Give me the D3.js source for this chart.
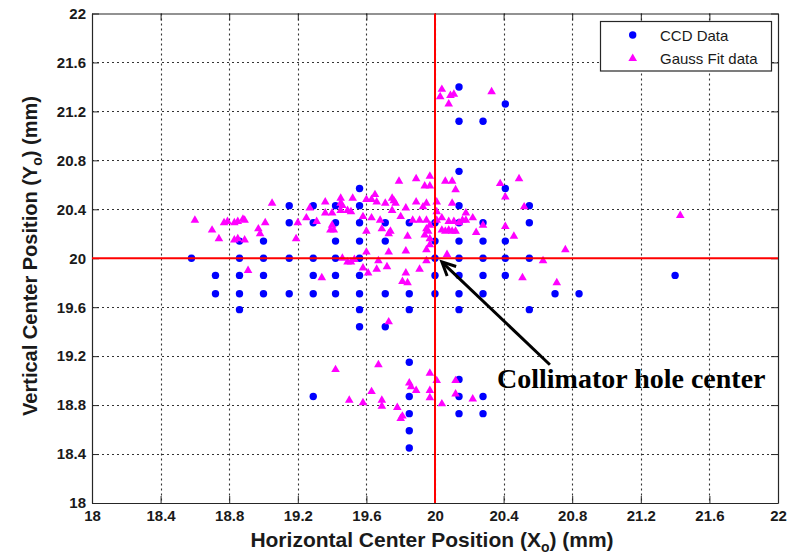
<!DOCTYPE html>
<html><head><meta charset="utf-8">
<script src="https://cdn.jsdelivr.net/npm/d3@7"></script>
<style>body{margin:0;background:#fff}</style>
</head><body><svg id="c" width="798" height="557"></svg>
<script>
const xTicks=[18,18.4,18.8,19.2,19.6,20,20.4,20.8,21.2,21.6,22];
const yTicks=[18,18.4,18.8,19.2,19.6,20,20.4,20.8,21.2,21.6,22];
const seriesNames=["CCD Data","Gauss Fit data"];
const ccdData=[
[18.58,20.00],
[18.72,19.86],[18.72,19.71],
[18.86,20.14],[18.86,20.00],[18.86,19.86],[18.86,19.71],[18.86,19.58],
[19.00,20.14],[19.00,20.00],[19.00,19.86],[19.00,19.71],
[19.15,20.43],[19.15,20.29],[19.15,20.00],[19.15,19.71],
[19.29,20.43],[19.29,20.29],[19.29,20.00],[19.29,19.86],[19.29,19.71],[19.29,18.87],
[19.42,20.43],[19.42,20.29],[19.42,20.14],[19.42,20.00],[19.42,19.86],[19.42,19.71],
[19.56,20.57],[19.56,20.43],[19.56,20.29],[19.56,20.14],[19.56,20.00],[19.56,19.86],[19.56,19.71],[19.56,19.58],[19.56,19.44],
[19.71,20.29],[19.71,20.14],[19.71,19.71],[19.71,19.44],
[19.85,20.29],[19.85,19.71],[19.85,19.58],[19.85,19.15],[19.85,18.87],[19.85,18.73],[19.85,18.59],[19.85,18.45],
[20.00,20.29],[20.00,20.14],[20.00,20.00],[20.00,19.86],[20.00,19.71],
[20.14,21.40],[20.14,21.12],[20.14,20.71],[20.14,20.43],[20.14,20.29],[20.14,20.14],[20.14,20.00],[20.14,19.86],[20.14,19.71],[20.14,19.58],[20.14,19.01],[20.14,18.87],[20.14,18.73],
[20.28,21.12],[20.28,20.29],[20.28,20.14],[20.28,20.00],[20.28,19.86],[20.28,19.71],[20.28,18.87],[20.28,18.73],
[20.41,21.26],[20.41,20.57],[20.41,20.14],[20.41,20.00],[20.41,19.86],
[20.55,20.43],[20.55,20.29],[20.55,20.00],[20.55,19.58],
[20.70,19.71],[20.84,19.71],[21.40,19.86]
];
const gaussData=[
[20.04,21.38],[20.03,21.32],[20.09,21.33],[20.11,21.34],[20.08,21.26],[20.33,21.36],
[19.79,20.63],[19.89,20.65],[19.97,20.67],[19.97,20.59],[19.94,20.59],[20.06,20.63],[20.10,20.63],[20.12,20.56],[20.38,20.61],[20.49,20.65],[20.41,20.50],
[19.45,20.49],[19.45,20.45],[19.46,20.43],[19.52,20.49],[19.60,20.48],[19.63,20.48],[19.65,20.52],[19.71,20.45],[19.76,20.47],[19.77,20.45],[19.83,20.41],[19.89,20.46],[19.95,20.45],[19.93,20.42],[20.01,20.46],[20.10,20.45],[20.18,20.37],[20.52,20.42],[19.75,20.39],[19.80,20.34],[20.01,20.38],[19.58,20.34],[19.63,20.33],[19.68,20.31],[19.87,20.31],[19.91,20.31],[19.95,20.31],[19.97,20.27],[20.04,20.33],[20.08,20.30],[20.11,20.30],[20.14,20.29],[20.16,20.31],[20.18,20.31],[20.22,20.33],[20.28,20.27],[20.41,20.26],[20.01,20.31],
[19.41,20.23],[19.40,20.27],[19.60,20.22],[19.69,20.24],[19.74,20.22],[19.73,20.20],[19.95,20.24],[19.96,20.22],[19.94,20.19],[19.97,20.16],[20.04,20.23],[20.06,20.22],[20.08,20.23],[20.10,20.22],[20.12,20.22],[20.24,20.21],[20.46,20.18],[19.84,20.18],
[19.95,20.07],[19.97,20.11],[19.60,20.05],[19.73,20.05],[19.83,20.06],[20.07,20.03],[20.76,20.07],[20.63,19.98],
[19.49,19.97],[19.51,19.97],[19.53,19.99],[19.46,20.00],[19.58,19.92],[19.61,19.88],[19.67,19.98],[19.66,19.91],[19.72,19.93],[19.91,19.91],[19.95,19.98],[19.83,19.88],[19.84,19.80],[19.81,19.81],[20.51,19.84],[20.71,19.80],[19.73,19.48],[19.34,19.84],
[18.60,20.31],[18.70,20.23],[18.74,20.16],[18.77,20.29],[18.79,20.30],[18.83,20.29],[18.85,20.30],[18.88,20.32],[18.89,20.31],[18.83,20.15],[18.85,20.16],[18.89,20.15],[18.91,19.90],[18.97,20.24],[18.98,20.20],[19.01,20.29],[19.05,20.45],[19.19,20.16],[19.20,20.29],[19.25,20.33],[19.27,20.41],[19.31,20.30],[19.36,20.37],[19.36,20.46],[19.39,20.23],[19.40,20.37],[19.45,20.39],[19.49,20.39],[19.51,20.38],[19.66,20.46],[19.75,20.49],
[19.42,19.09],[19.67,19.13],[19.50,18.84],[19.58,18.82],[19.63,18.91],[19.69,18.84],[19.69,18.79],[19.78,18.78],[19.80,18.69],[19.81,18.71],[19.85,18.98],[19.86,18.95],[19.89,18.92],[19.97,19.06],[19.97,18.92],[19.97,18.86],[20.01,19.00],[20.04,18.81],[20.12,19.00],[20.12,18.89],[20.22,18.85],
[21.43,20.35]
];
const refX=20, refY=20;
const annotationText="Collimator hole center";
const arrowFrom=[20.67,19.13], arrowTo=[20.04,19.97];

const svg=d3.select("#c");
const L=92,R=778,T=13.5,B=503;
const x=d3.scaleLinear().domain([18,22]).range([L,R]);
const y=d3.scaleLinear().domain([18,22]).range([B,T]);
const fmt=v=>String(+v.toFixed(1));
const axisColor="#262626";
const sans="'Liberation Sans', Arial, sans-serif";

svg.append("rect").attr("x",L).attr("y",T).attr("width",R-L).attr("height",B-T).attr("fill","#fff");

// grid
const g=svg.append("g").attr("stroke","#333").attr("stroke-width",1.1).attr("stroke-dasharray","2,3");
g.selectAll("line.v").data(xTicks.slice(1,-1)).join("line").attr("class","v")
 .attr("x1",d=>Math.round(x(d))+0.5).attr("x2",d=>Math.round(x(d))+0.5).attr("y1",T).attr("y2",B);
g.selectAll("line.h").data(yTicks.slice(1,-1)).join("line").attr("class","h")
 .attr("y1",d=>Math.round(y(d))+0.5).attr("y2",d=>Math.round(y(d))+0.5).attr("x1",L).attr("x2",R);

// axes
function style(sel){sel.selectAll("path.domain").attr("stroke",axisColor).attr("stroke-width",1.2);
 sel.selectAll(".tick line").attr("stroke",axisColor);
 sel.selectAll("text").attr("font-family",sans).attr("font-weight","bold").attr("font-size",15).attr("fill","#1a1a1a");}
svg.append("g").attr("transform",`translate(0,${B})`).call(d3.axisBottom(x).tickValues(xTicks).tickFormat(fmt).tickSize(-7).tickSizeOuter(0).tickPadding(7)).call(style);
svg.append("g").attr("transform",`translate(${L},0)`).call(d3.axisLeft(y).tickValues(yTicks).tickFormat(fmt).tickSize(-7).tickSizeOuter(0).tickPadding(6)).call(style);
svg.append("g").attr("transform",`translate(0,${T})`).call(d3.axisTop(x).tickValues(xTicks).tickFormat("").tickSize(-7).tickSizeOuter(0)).call(style);
svg.append("g").attr("transform",`translate(${R},0)`).call(d3.axisRight(y).tickValues(yTicks).tickFormat("").tickSize(-7).tickSizeOuter(0)).call(style);

// data
const tri=d3.symbol(d3.symbolTriangle,32);
svg.append("g").selectAll("circle").data(ccdData).join("circle")
 .attr("cx",d=>x(d[0])).attr("cy",d=>y(d[1])).attr("r",3.7).attr("fill","#0000ff");
svg.append("g").selectAll("path").data(gaussData).join("path")
 .attr("d",tri).attr("transform",d=>`translate(${x(d[0])},${y(d[1])})`).attr("fill","#ff00ff");

// reference lines
svg.append("line").attr("x1",x(refX)).attr("x2",x(refX)).attr("y1",T).attr("y2",B).attr("stroke","#ff0000").attr("stroke-width",2);
svg.append("line").attr("y1",y(refY)).attr("y2",y(refY)).attr("x1",L).attr("x2",R).attr("stroke","#ff0000").attr("stroke-width",2);

// annotation arrow
const x0=x(arrowFrom[0]),y0=y(arrowFrom[1]),x1=x(arrowTo[0]),y1=y(arrowTo[1]);
const ang=Math.atan2(y0-y1,x0-x1), hl=15, ha=0.45;
svg.append("line").attr("x1",x0).attr("y1",y0).attr("x2",x1+2*Math.cos(ang)).attr("y2",y1+2*Math.sin(ang)).attr("stroke","#000").attr("stroke-width",3);
svg.append("path").attr("d",`M${x1+hl*Math.cos(ang-ha)},${y1+hl*Math.sin(ang-ha)}L${x1},${y1}L${x1+hl*Math.cos(ang+ha)},${y1+hl*Math.sin(ang+ha)}`)
 .attr("fill","none").attr("stroke","#000").attr("stroke-width",3).attr("stroke-linejoin","miter");
svg.append("text").attr("x",497).attr("y",388).attr("font-family","'Liberation Serif', 'Times New Roman', serif").attr("font-weight","bold").attr("font-size",28).attr("fill","#000").text(annotationText);

// legend
const lg=svg.append("g");
lg.append("rect").attr("x",600.5).attr("y",21.5).attr("width",171).attr("height",49.5).attr("fill","#fff").attr("stroke",axisColor).attr("stroke-width",1.2);
lg.append("circle").attr("cx",632.7).attr("cy",35).attr("r",3.7).attr("fill","#0000ff");
lg.append("path").attr("d",tri).attr("transform","translate(632.7,58.5)").attr("fill","#ff00ff");
lg.selectAll("text").data(seriesNames).join("text").attr("x",660).attr("y",(d,i)=>40.5+i*23)
 .attr("font-family",sans).attr("font-size",15).attr("fill","#1a1a1a").text(d=>d);

// axis labels
const xl=svg.append("text").attr("x",432).attr("y",547).attr("text-anchor","middle").attr("font-family",sans).attr("font-weight","bold").attr("font-size",21).attr("fill","#1a1a1a");
xl.append("tspan").text("Horizontal Center Position (X");
xl.append("tspan").attr("font-size",14).attr("dy",5).text("o");
xl.append("tspan").attr("dy",-5).text(") (mm)");
const yl=svg.append("text").attr("transform","translate(37,256) rotate(-90)").attr("text-anchor","middle").attr("font-family",sans).attr("font-weight","bold").attr("font-size",20).attr("fill","#1a1a1a");
yl.append("tspan").text("Vertical Center Position (Y");
yl.append("tspan").attr("font-size",14).attr("dy",5).text("o");
yl.append("tspan").attr("dy",-5).text(") (mm)");
</script></body></html>
